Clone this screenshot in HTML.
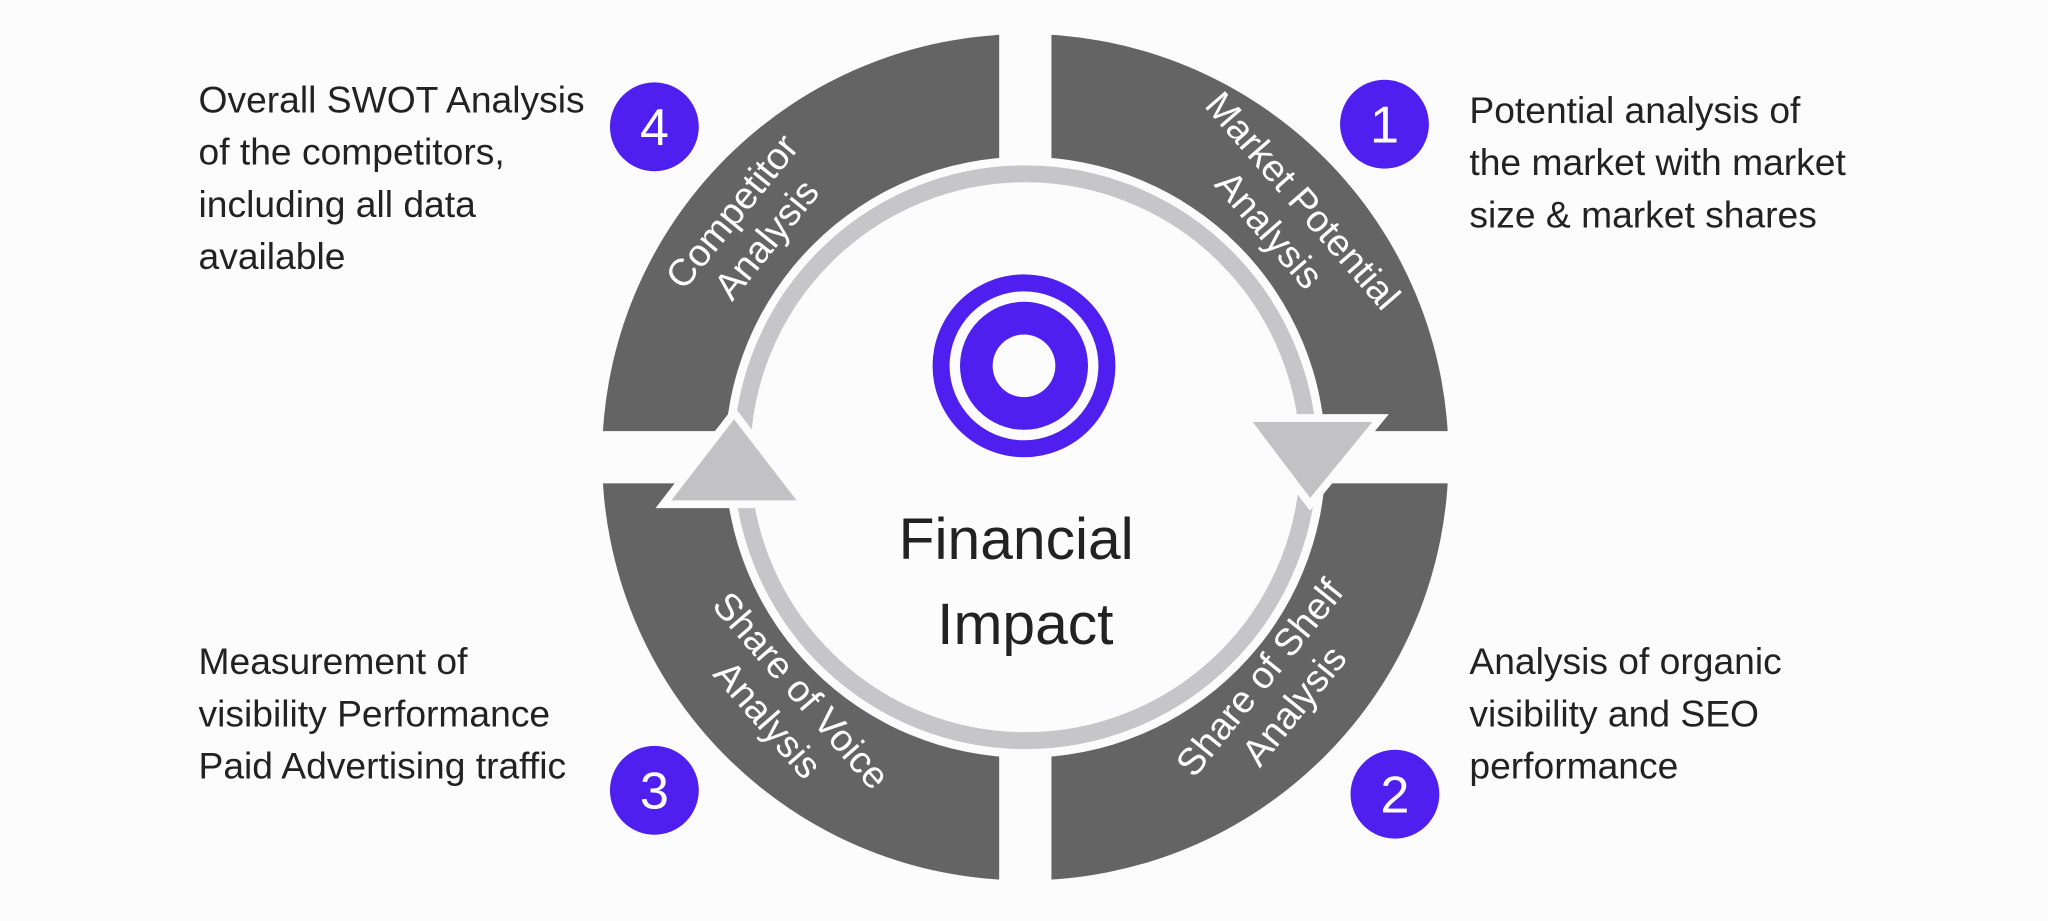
<!DOCTYPE html>
<html><head><meta charset="utf-8"><style>
html,body{margin:0;padding:0;background:#fdfcfd;}
svg{display:block;}
text{font-family:"Liberation Sans","DejaVu Sans",sans-serif;}
</style></head><body>
<svg width="2048" height="921" viewBox="0 0 1568 705" xmlns="http://www.w3.org/2000/svg">
<rect width="1568" height="705" fill="#fdfcfd"/>
<circle cx="785" cy="350" r="324" fill="#646464"/>
<circle cx="785" cy="350" r="230" fill="#fdfcfd"/>
<rect x="765" y="0" width="40" height="705" fill="#fdfcfd"/>
<rect x="440" y="330" width="700" height="40" fill="#fdfcfd"/>
<circle cx="785" cy="350" r="217" fill="none" stroke="#c6c6c8" stroke-width="13"/>
<polygon points="953,320 1057,320 1003,386" fill="#c2c2c4" stroke="#fdfcfd" stroke-width="6"/>
<polygon points="508,386 616,386 562,316" fill="#c2c2c4" stroke="#fdfcfd" stroke-width="6"/>
<circle cx="784" cy="280" r="70" fill="#4f1ff0"/>
<circle cx="784" cy="280" r="57" fill="#fdfcfd"/>
<circle cx="784" cy="280" r="49" fill="#4f1ff0"/>
<circle cx="784" cy="280" r="24" fill="#fdfcfd"/>
<text x="778" y="428" font-size="45" fill="#222" text-anchor="middle">Financial</text>
<text x="785" y="493" font-size="45" fill="#222" text-anchor="middle">Impact</text>
<g fill="#fff" font-size="29" text-anchor="middle">
<text transform="translate(568,168) rotate(-51)"><tspan x="0" y="0">Competitor</tspan><tspan x="0" y="34">Analysis</tspan></text>
<text transform="translate(990,160) rotate(49)"><tspan x="0" y="0">Market Potential</tspan><tspan x="0" y="34">Analysis</tspan></text>
<text transform="translate(972,525) rotate(-51)"><tspan x="0" y="0">Share of Shelf</tspan><tspan x="0" y="34">Analysis</tspan></text>
<text transform="translate(606,535) rotate(49)"><tspan x="0" y="0">Share of Voice</tspan><tspan x="0" y="34">Analysis</tspan></text>
</g>
<g fill="#4f1ff0"><circle cx="501" cy="97" r="34"/><circle cx="1060" cy="95" r="34"/><circle cx="501" cy="605" r="34"/><circle cx="1068" cy="608" r="34"/></g>
<g fill="#fff" font-size="40" text-anchor="middle">
<text x="501" y="111">4</text><text x="1060" y="109">1</text><text x="501" y="619">3</text><text x="1068" y="622">2</text></g>
<g fill="#222" font-size="28.5">
<text x="152" y="86">Overall SWOT Analysis</text><text x="152" y="126">of the competitors,</text><text x="152" y="166">including all data</text><text x="152" y="206">available</text>
<text x="1125" y="94">Potential analysis of</text><text x="1125" y="134">the market with market</text><text x="1125" y="174">size &amp; market shares</text>
<text x="152" y="516">Measurement of</text><text x="152" y="556">visibility Performance</text><text x="152" y="596">Paid Advertising traffic</text>
<text x="1125" y="516">Analysis of organic</text><text x="1125" y="556">visibility and SEO</text><text x="1125" y="596">performance</text>
</g>
</svg>
</body></html>
